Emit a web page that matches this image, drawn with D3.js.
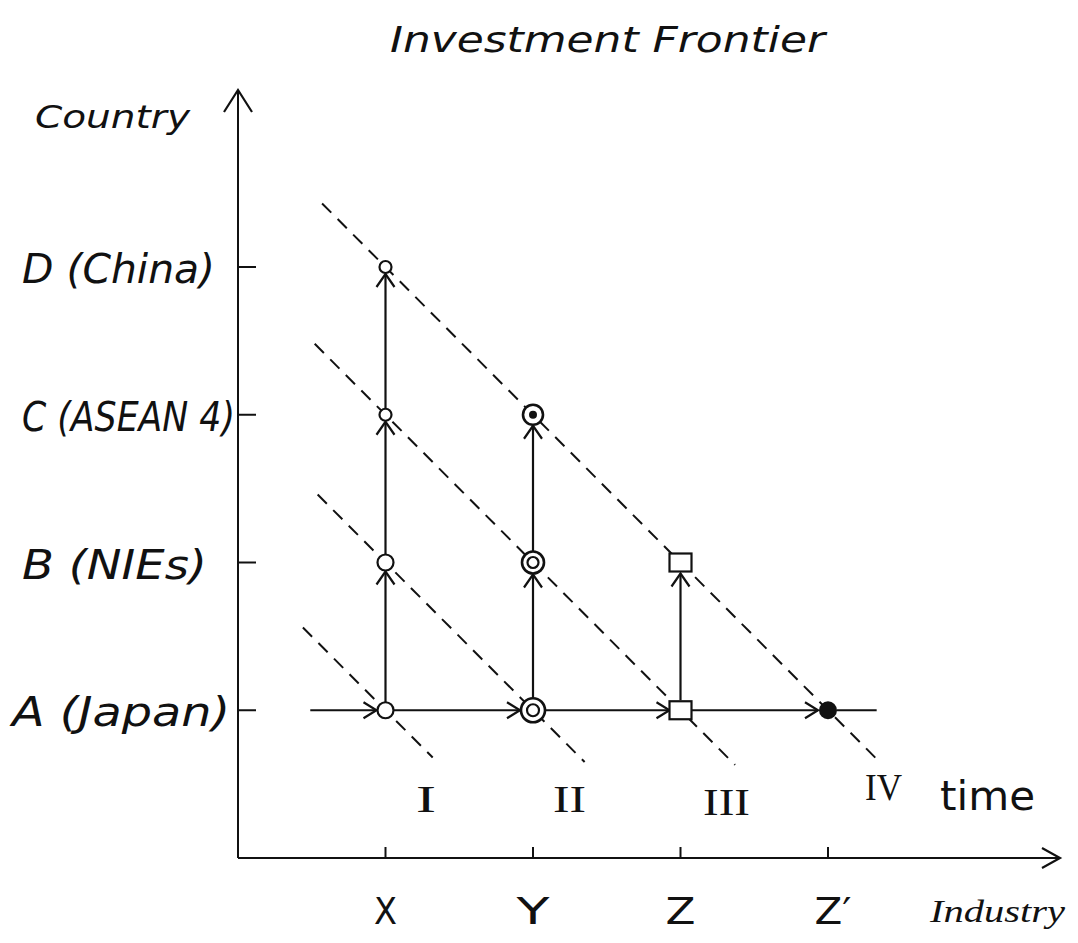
<!DOCTYPE html>
<html>
<head>
<meta charset="utf-8">
<script src="https://cdn.jsdelivr.net/npm/d3@7"></script>
<style>
  html, body { margin: 0; padding: 0; background: #fff; }
  svg { display: block; }
</style>
</head>
<body>
<div id="chart"></div>
<script>
// ---- data ----
const title = "Investment Frontier";
const countries = ["A (Japan)", "B (NIEs)", "C (ASEAN 4)", "D (China)"];
const countryLevels = [1, 2, 3, 4];
const industries = ["X", "Y", "Z", "Z′"];
const industryPositions = [1, 2, 3, 4];
const topCountryReached = [4, 3, 2, 1];       // highest country level reached by each industry
const frontierNames = ["I", "II", "III", "IV"];
const frontierSums = [2, 3, 4, 5];            // frontier k: industry + country = const
const frontierFrom = [0.44, 0.54, 0.52, 0.57];
const frontierTo = [1.32, 2.35, 3.37, 4.35];
const timeStart = 0.49, timeEnd = 4.33;
const yAxisTitle = "Country";
const xAxisTitle = "Industry";
const timeLabel = "time";

// ---- drawing ----
const W = 1078, H = 943;
const svg = d3.select("#chart").append("svg").attr("width", W).attr("height", H);
const x = d3.scaleLinear().domain([0, 4]).range([238, 828]);
const y = d3.scaleLinear().domain([0, 4]).range([858, 267]);
const ink = "#111";
const font = "'DejaVu Sans', sans-serif";

function txt(s, x0, yb, len, size, fam, extra) {
  const t = svg.append("text").attr("x", x0).attr("y", yb)
    .attr("font-family", fam || font).attr("font-size", size).attr("fill", ink)
    .attr("textLength", len).attr("lengthAdjust", "spacingAndGlyphs").text(s);
  if (extra) extra(t);
  return t;
}
function chevron(tx, ty, dir, arm, spread) {
  // dir: "up" | "right"
  const a = arm || 13, s = spread || 10;
  let pts;
  if (dir === "up") pts = [[tx - s, ty + a], [tx, ty], [tx + s, ty + a]];
  else pts = [[tx - a, ty - s], [tx, ty], [tx - a, ty + s]];
  svg.append("path").attr("d", d3.line()(pts)).attr("fill", "none")
    .attr("stroke", ink).attr("stroke-width", 2.2).attr("stroke-linejoin", "miter");
}

// title
txt(title, 390, 52, 435, 36, "'DejaVu Sans', sans-serif", t => t.attr("font-style", "italic"));

// axes
const x0 = x(0), y0 = y(0);
svg.append("line").attr("x1", x0).attr("y1", y0).attr("x2", x0).attr("y2", 90)
  .attr("stroke", ink).attr("stroke-width", 2);
chevron(x0, 90, "up", 22, 14);
svg.append("line").attr("x1", x0).attr("y1", y0).attr("x2", 1060).attr("y2", y0)
  .attr("stroke", ink).attr("stroke-width", 2);
chevron(1060, y0, "right", 18, 10);

// y ticks & labels
const yLabelX = [12, 22, 22, 22];
const yLabelLen = [218, 185, 213, 193];
countryLevels.forEach((c, i) => {
  svg.append("line").attr("x1", x0).attr("x2", x0 + 18).attr("y1", y(c)).attr("y2", y(c))
    .attr("stroke", ink).attr("stroke-width", 2);
  txt(countries[i], yLabelX[i], y(c) + 16, yLabelLen[i], 40, font, t => t.attr("font-style", "italic"));
});
txt(yAxisTitle, 35, 128, 155, 32, font, t => t.attr("font-style", "italic"));

// x ticks & labels
const xLabelLen = [23, 33, 30, 37];
industryPositions.forEach((p, i) => {
  svg.append("line").attr("x1", x(p)).attr("x2", x(p)).attr("y1", y0).attr("y2", y0 - 11)
    .attr("stroke", ink).attr("stroke-width", 2);
  const lx = x(p) - xLabelLen[i] / 2 + (i === 3 ? 5 : 0);
  txt(industries[i], lx, 924, xLabelLen[i], 38, font);
});
txt(xAxisTitle, 930, 922, 135, 32, "'Liberation Serif', serif", t => t.attr("font-style", "italic"));

// frontiers (dashed)
frontierSums.forEach((s, i) => {
  svg.append("line")
    .attr("x1", x(frontierFrom[i])).attr("y1", y(s - frontierFrom[i]))
    .attr("x2", x(frontierTo[i])).attr("y2", y(s - frontierTo[i]))
    .attr("stroke", ink).attr("stroke-width", 2).attr("stroke-dasharray", "13,9");
});
const fLabX = [416, 553, 703, 865];
const fLabY = [812, 812, 815, 800];
const fLabLen = [20, 33, 47, 37];
frontierNames.forEach((n, i) => txt(n, fLabX[i], fLabY[i], fLabLen[i], 38, "'Liberation Serif', serif"));
txt(timeLabel, 940, 810, 95, 40, font);

// marker radius lookup (visual size only)
function markerR(ind, lev) {
  if (ind === 0) return lev <= 2 ? 8 : 6;
  if (ind === 1) return lev === 1 ? 12 : (lev === 2 ? 11 : 10);
  if (ind === 2) return 10;
  return 9;
}

// time line along A (Japan) with arrows before each industry marker
const yA = y(countryLevels[0]);
let prev = x(timeStart);
industryPositions.forEach((p, i) => {
  const tip = x(p) - markerR(i, 1) - 1;
  svg.append("line").attr("x1", prev).attr("x2", tip).attr("y1", yA).attr("y2", yA)
    .attr("stroke", ink).attr("stroke-width", 2.2);
  chevron(tip, yA, "right", 13, 8);
  prev = x(p) + markerR(i, 1);
});
svg.append("line").attr("x1", prev).attr("x2", x(timeEnd)).attr("y1", yA).attr("y2", yA)
  .attr("stroke", ink).attr("stroke-width", 2.2);

// vertical moves of each industry up through countries
industryPositions.forEach((p, i) => {
  for (let lev = 2; lev <= topCountryReached[i]; lev++) {
    const yFrom = y(lev - 1) - markerR(i, lev - 1);
    const tip = y(lev) + markerR(i, lev) + 1;
    svg.append("line").attr("x1", x(p)).attr("x2", x(p)).attr("y1", yFrom).attr("y2", tip)
      .attr("stroke", ink).attr("stroke-width", 2.2);
    chevron(x(p), tip, "up", 13, 9);
  }
});

// markers
industryPositions.forEach((p, i) => {
  for (let lev = 1; lev <= topCountryReached[i]; lev++) {
    const cx = x(p), cy = y(lev), r = markerR(i, lev);
    if (i === 0) {
      svg.append("circle").attr("cx", cx).attr("cy", cy).attr("r", r)
        .attr("fill", "#fff").attr("stroke", ink).attr("stroke-width", 2.2);
    } else if (i === 1) {
      svg.append("circle").attr("cx", cx).attr("cy", cy).attr("r", r)
        .attr("fill", "#fff").attr("stroke", ink).attr("stroke-width", 2.6);
      if (lev === 3) {
        svg.append("circle").attr("cx", cx).attr("cy", cy).attr("r", 4).attr("fill", ink);
      } else {
        svg.append("circle").attr("cx", cx).attr("cy", cy).attr("r", r / 2)
          .attr("fill", "none").attr("stroke", ink).attr("stroke-width", 2.2);
      }
    } else if (i === 2) {
      svg.append("rect").attr("x", cx - 11).attr("y", cy - 9).attr("width", 22).attr("height", 18)
        .attr("fill", "#fff").attr("stroke", ink).attr("stroke-width", 2.2);
    } else {
      svg.append("circle").attr("cx", cx).attr("cy", cy).attr("r", r).attr("fill", ink);
    }
  }
});
</script>
</body>
</html>
